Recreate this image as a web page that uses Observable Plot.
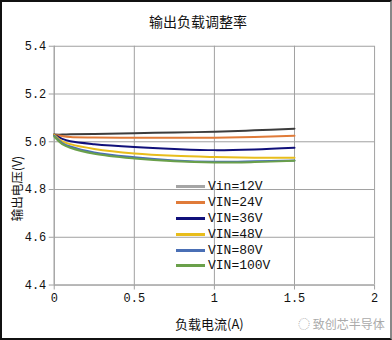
<!DOCTYPE html>
<html><head><meta charset="utf-8">
<script src="https://cdn.jsdelivr.net/npm/d3@7"></script>
<script src="https://cdn.jsdelivr.net/npm/@observablehq/plot@0.6"></script>
<style>
html,body{margin:0;padding:0;background:#fff;}
#wrap{position:relative;width:392px;height:340px;box-sizing:border-box;border:2px solid #111;border-right-color:#888;overflow:hidden;background:#fff;}
#chart{position:absolute;left:-2px;top:-2px;}
.ov{position:absolute;font-family:"Noto Sans CJK SC",sans-serif;color:#111;white-space:nowrap;}
#legend{position:absolute;left:174px;top:177px;font-family:"Liberation Mono","DejaVu Sans Mono",monospace;font-size:13px;color:#111;}
#legend .row{height:15.8px;display:flex;align-items:center;}
#legend .sw{width:29px;height:3px;margin-right:3px;}
</style></head>
<body>
<div id="wrap">
<div id="chart"></div>
<div class="ov" style="left:0;width:392px;top:9px;text-align:center;font-size:14px;">输出负载调整率</div>
<div class="ov" style="left:-24px;top:177px;width:76px;text-align:center;font-size:12.5px;transform:rotate(-90deg);">输出电压(V)</div>
<div class="ov" style="left:173px;top:312px;font-size:13px;">负载电流(A)</div>
<div class="ov" style="left:296px;top:313px;font-size:12px;color:#aaa;">◌ 致创芯半导体</div>
<div id="legend"></div>
</div>
<script>
const current = [0, 0.05, 0.1, 0.25, 0.5, 0.75, 1, 1.25, 1.5];
const v12  = [5.030, 5.030, 5.031, 5.033, 5.036, 5.039, 5.042, 5.048, 5.055];
const v24  = [5.030, 5.024, 5.020, 5.018, 5.017, 5.017, 5.017, 5.020, 5.025];
const v36  = [5.030, 5.012, 5.002, 4.990, 4.978, 4.970, 4.965, 4.968, 4.975];
const v48  = [5.030, 5.002, 4.990, 4.970, 4.951, 4.941, 4.936, 4.933, 4.933];
const v80  = [5.025, 4.995, 4.980, 4.955, 4.935, 4.922, 4.916, 4.918, 4.922];
const v100 = [5.022, 4.990, 4.975, 4.950, 4.930, 4.918, 4.913, 4.915, 4.920];
const seriesNames = ["Vin=12V", "VIN=24V", "VIN=36V", "VIN=48V", "VIN=80V", "VIN=100V"];
const lineColors  = ["#3c3c3c", "#e07b39", "#10107a", "#e8bd1c", "#4a6fb5", "#6aa04a"];
const legendColors = ["#a5a5a5", "#e07b39", "#10107a", "#e8bd1c", "#4a6fb5", "#6aa04a"];
const xTicks = [0, 0.5, 1, 1.5, 2];
const yTicks = [4.4, 4.6, 4.8, 5.0, 5.2, 5.4];

const allSeries = [v12, v24, v36, v48, v80, v100];
const rows = [];
allSeries.forEach((vals, i) => vals.forEach((v, j) => rows.push({s: seriesNames[i], x: current[j], y: v})));

const grid = "#a0a0a0";
const tickFont = "Liberation Mono, DejaVu Sans Mono, monospace";
const plot = Plot.plot({
  width: 392, height: 340,
  marginLeft: 54, marginRight: 16, marginTop: 46, marginBottom: 54,
  style: {background: "transparent", fontFamily: tickFont, fontSize: "12px", color: "#111"},
  x: {domain: [0, 2], label: null},
  y: {domain: [4.4, 5.4], label: null},
  color: {domain: seriesNames, range: lineColors},
  marks: [
    Plot.gridX(xTicks, {stroke: grid, strokeOpacity: 1}),
    Plot.gridY(yTicks, {stroke: grid, strokeOpacity: 1}),
    Plot.ruleX([0], {stroke: grid}),
    Plot.ruleY([4.4], {stroke: grid}),
    Plot.axisX(xTicks, {stroke: grid, tickSize: 5, tickPadding: 4, fontSize: 12, label: null, tickFormat: d => String(d)}),
    Plot.axisY(yTicks, {stroke: grid, tickSize: 5, tickPadding: 3, fontSize: 12, label: null, tickFormat: d => d.toFixed(1)}),
    Plot.line(rows, {x: "x", y: "y", z: "s", stroke: "s", strokeWidth: 2, curve: "catmull-rom"})
  ]
});
document.getElementById("chart").appendChild(plot);

const leg = document.getElementById("legend");
seriesNames.forEach((n, i) => {
  const r = document.createElement("div"); r.className = "row";
  const sw = document.createElement("div"); sw.className = "sw"; sw.style.background = legendColors[i];
  const t = document.createElement("span"); t.textContent = n;
  r.appendChild(sw); r.appendChild(t); leg.appendChild(r);
});
</script>
</body></html>
